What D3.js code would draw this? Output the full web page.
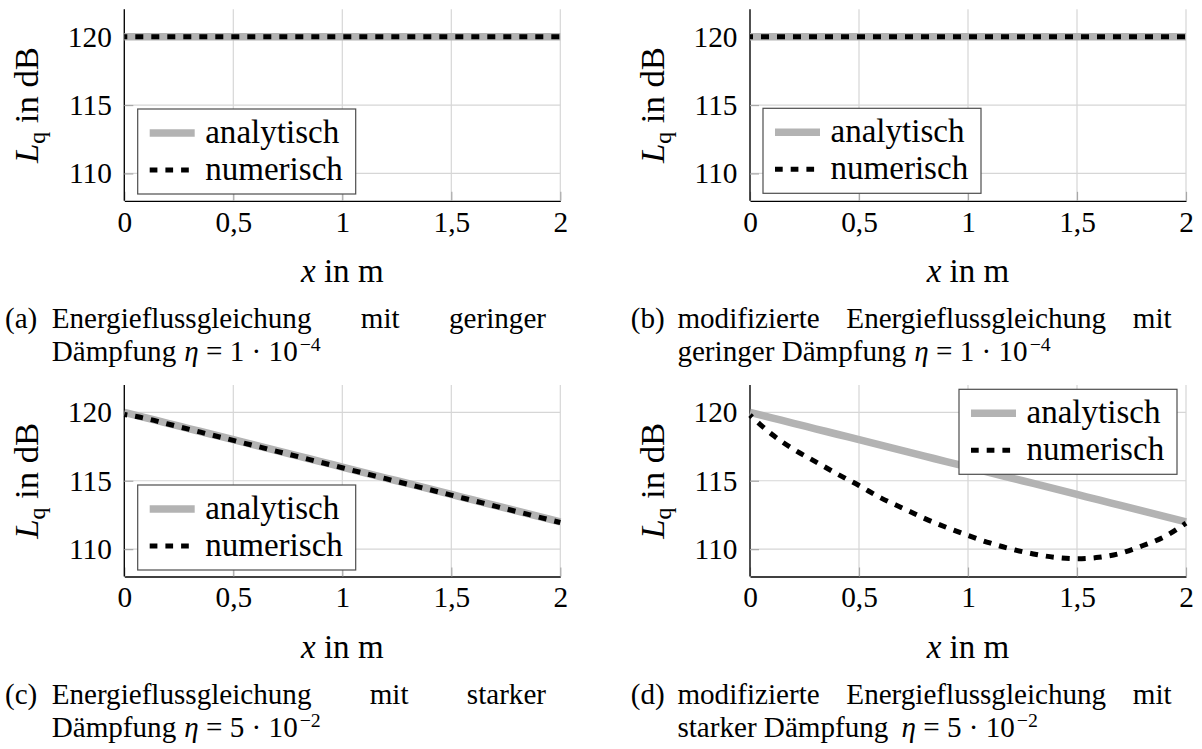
<!DOCTYPE html>
<html>
<head>
<meta charset="utf-8">
<script src="https://cdn.jsdelivr.net/npm/d3@7"></script>
<style>
  body { margin: 0; background: #fff; }
</style>
</head>
<body>
<div class="canvas"></div>
<script>
// x positions along the rod (m)
const xs = [0, 0.1, 0.2, 0.3, 0.4, 0.5, 0.6, 0.7, 0.8, 0.9, 1, 1.1, 1.2, 1.3, 1.4, 1.5, 1.6, 1.7, 1.8, 1.9, 2];

// Lq in dB
const analytischGering = [120, 120, 120, 120, 120, 120, 120, 120, 120, 120, 120, 120, 120, 120, 120, 120, 120, 120, 120, 120, 120];
const numerischEnergieGering = [120, 120, 120, 120, 120, 120, 120, 120, 120, 120, 120, 120, 120, 120, 120, 120, 120, 120, 120, 120, 120];
const numerischModGering = [120, 120, 120, 120, 120, 120, 120, 120, 120, 120, 120, 120, 120, 120, 120, 120, 120, 120, 120, 120, 120];
const analytischStark = [120, 119.6, 119.2, 118.8, 118.4, 118, 117.6, 117.2, 116.8, 116.4, 116, 115.6, 115.2, 114.8, 114.4, 114, 113.6, 113.2, 112.8, 112.4, 112];
const numerischEnergieStark = [119.85, 119.55, 119.15, 118.75, 118.35, 117.95, 117.55, 117.15, 116.75, 116.35, 115.95, 115.55, 115.15, 114.75, 114.35, 113.95, 113.55, 113.15, 112.75, 112.35, 111.95];
const numerischModStark = [119.8, 118.4, 117.3, 116.4, 115.5, 114.65, 113.75, 113.0, 112.25, 111.6, 111.0, 110.45, 110.0, 109.65, 109.4, 109.3, 109.4, 109.7, 110.25, 110.9, 111.9];

const xTicks = [0, 0.5, 1, 1.5, 2];
const yTicks = [110, 115, 120];
const legendLabels = ['analytisch', 'numerisch'];

const captions = [
  { tag: '(a)', line1: ['Energieflussgleichung', 'mit', 'geringer'], line2: 'Dämpfung', eta: '1', exp: '−4' },
  { tag: '(b)', line1: ['modifizierte', 'Energieflussgleichung', 'mit'], line2: 'geringer Dämpfung', eta: '1', exp: '−4' },
  { tag: '(c)', line1: ['Energieflussgleichung', 'mit', 'starker'], line2: 'Dämpfung', eta: '5', exp: '−2' },
  { tag: '(d)', line1: ['modifizierte', 'Energieflussgleichung', 'mit'], line2: 'starker Dämpfung', eta: '5', exp: '−2' }
];

const width = 1202;
const height = 749;
const plotW = 436;
const plotH = 191.5;
const gray = '#b3b3b3';

// pick an installed serif face, size it to the widths seen in the figure
const ctx = document.createElement('canvas').getContext('2d');
const hasFont = name => {
  const probe = 'mmmmmwwiil0123456789QqgB';
  return ['monospace', 'sans-serif'].some(fb => {
    ctx.font = `60px ${fb}`;
    const a = ctx.measureText(probe).width;
    ctx.font = `60px "${name}", ${fb}`;
    return ctx.measureText(probe).width !== a;
  });
};
const face = ['Liberation Serif', 'Tinos', 'DejaVu Serif', 'Noto Serif', 'Times New Roman'].find(hasFont) || 'serif';
const fontFamily = `"${face}", serif`;
const fit = (str, target) => {
  ctx.font = `100px ${fontFamily}`;
  return (100 * target) / ctx.measureText(str).width;
};
const tickFont = fit('120', 44);
const labelFont = fit('analytisch', 134);
const captionFont = fit('geringer', 97);

const svg = d3
  .select('.canvas')
  .append('svg')
  .attr('width', width)
  .attr('height', height)
  .style('font-family', fontFamily);

const x = d3.scaleLinear().domain([0, 2]).range([0, plotW]);
const y = d3.scaleLinear().domain([108, 122]).range([plotH, 0]);

const line = values =>
  d3
    .line()
    .x((d, i) => x(xs[i]))
    .y(d => y(d))
    .curve(d3.curveMonotoneX)(values);

const panels = [
  { left: 124.3, top: 9.3, analytic: analytischGering, numeric: numerischEnergieGering, legend: [13.4, 99.7] },
  { left: 750, top: 9.3, analytic: analytischGering, numeric: numerischModGering, legend: [13, 99] },
  { left: 124.3, top: 385, analytic: analytischStark, numeric: numerischEnergieStark, legend: [13.4, 100] },
  { left: 750, top: 385, analytic: analytischStark, numeric: numerischModStark, legend: [209, 4.3] }
];

panels.forEach((p, idx) => {
  const graph = svg
    .append('g')
    .attr('transform', `translate(${p.left}, ${p.top})`);

  // grid
  graph
    .append('g')
    .selectAll('line')
    .data(xTicks)
    .enter()
    .append('line')
    .attr('x1', d => x(d))
    .attr('x2', d => x(d))
    .attr('y1', 0)
    .attr('y2', plotH)
    .attr('stroke', '#d6d6d6')
    .attr('stroke-width', 1.2);
  graph
    .append('g')
    .selectAll('line')
    .data(yTicks)
    .enter()
    .append('line')
    .attr('x1', 0)
    .attr('x2', plotW)
    .attr('y1', d => y(d))
    .attr('y2', d => y(d))
    .attr('stroke', '#d6d6d6')
    .attr('stroke-width', 1.2);

  // axes
  const xAxis = d3
    .axisBottom(x)
    .tickValues(xTicks)
    .tickSize(-9)
    .tickSizeOuter(0)
    .tickPadding(10)
    .tickFormat(d => String(d).replace('.', ','));
  const yAxis = d3
    .axisLeft(y)
    .tickValues(yTicks)
    .tickSize(-9)
    .tickSizeOuter(0)
    .tickPadding(12.5);

  const xAxisGroup = graph
    .append('g')
    .attr('transform', `translate(0, ${plotH})`)
    .call(xAxis);
  const yAxisGroup = graph.append('g').call(yAxis);

  [xAxisGroup, yAxisGroup].forEach(g => {
    g.attr('font-family', null).attr('font-size', null);
    g.select('.domain').attr('stroke', '#000').attr('stroke-width', 1.3);
    g.selectAll('.tick line').attr('stroke', '#a8a8a8').attr('stroke-width', 1.2);
    g.selectAll('.tick text')
      .attr('fill', '#000')
      .style('font-size', `${tickFont}px`);
  });
  // y axis reaches the top of the plot
  yAxisGroup.select('.domain').attr('d', `M0,${plotH}V0`);

  // curves
  graph
    .append('path')
    .attr('d', line(p.analytic))
    .attr('fill', 'none')
    .attr('stroke', gray)
    .attr('stroke-width', 7.5);
  graph
    .append('path')
    .attr('d', line(p.numeric))
    .attr('fill', 'none')
    .attr('stroke', '#000')
    .attr('stroke-width', 5)
    .attr('stroke-dasharray', '8, 8')
    .attr('stroke-dashoffset', 5);

  // axis labels
  const xLabel = graph
    .append('text')
    .attr('x', plotW / 2)
    .attr('y', plotH + 81)
    .attr('text-anchor', 'middle')
    .style('font-size', `${labelFont}px`);
  xLabel.append('tspan').style('font-style', 'italic').text('x');
  xLabel.append('tspan').text(' in m');

  const yLabel = graph
    .append('text')
    .attr('transform', `translate(-86, ${plotH / 2}) rotate(-90)`)
    .attr('text-anchor', 'middle')
    .style('font-size', `${labelFont * 1.05}px`);
  yLabel.append('tspan').style('font-style', 'italic').text('L');
  yLabel.append('tspan').attr('dy', 7).style('font-size', `${labelFont * 0.72}px`).text('q');
  yLabel.append('tspan').attr('dy', -7).text(' in dB');

  // legend
  const legend = graph
    .append('g')
    .attr('transform', `translate(${p.legend[0]}, ${p.legend[1]})`);
  legend
    .append('rect')
    .attr('width', 218)
    .attr('height', 85)
    .attr('fill', '#fff')
    .attr('stroke', '#4d4d4d')
    .attr('stroke-width', 1.2);
  legend
    .selectAll('line')
    .data(legendLabels)
    .enter()
    .append('line')
    .attr('x1', 12)
    .attr('x2', 57)
    .attr('y1', (d, i) => 24 + i * 37)
    .attr('y2', (d, i) => 24 + i * 37)
    .attr('stroke', (d, i) => (i === 0 ? gray : '#000'))
    .attr('stroke-width', (d, i) => (i === 0 ? 7.5 : 5))
    .attr('stroke-dasharray', (d, i) => (i === 0 ? null : '7.7, 8'));
  legend
    .selectAll('text')
    .data(legendLabels)
    .enter()
    .append('text')
    .attr('x', 67.5)
    .attr('y', (d, i) => 24 + i * 37)
    .attr('dy', '0.3em')
    .style('font-size', `${labelFont}px`)
    .text(d => d);

  // caption under the panel
  const c = captions[idx];
  const capX = p.left - 119.3;
  const textX = capX + 46.7;
  const textEnd = capX + 541;
  const base1 = p.top + 319;
  const cap = svg.append('g').style('font-size', `${captionFont}px`);

  cap.append('text').attr('x', capX).attr('y', base1).text(c.tag);

  // justified first line
  const words = cap
    .selectAll('.word')
    .data(c.line1)
    .enter()
    .append('text')
    .attr('class', 'word')
    .attr('y', base1)
    .text(d => d);
  const lens = [];
  words.each(function () {
    lens.push(this.getComputedTextLength());
  });
  const gap = (textEnd - textX - d3.sum(lens)) / (lens.length - 1);
  let pos = textX;
  words.attr('x', (d, i) => {
    const at = pos;
    pos += lens[i] + gap;
    return at;
  });

  // second line: words, then the formula, then the exponent, each its own text
  const base2 = base1 + 33;
  const wordText = cap.append('text').attr('x', textX).attr('y', base2).text(c.line2);
  let cursor = textX + wordText.node().getComputedTextLength() + captionFont * (idx === 3 ? 0.45 : 0.28);
  const mathText = cap.append('text').attr('x', cursor).attr('y', base2);
  mathText.append('tspan').style('font-style', 'italic').text('η');
  mathText.append('tspan').text(` = ${c.eta} · 10`);
  cursor += mathText.node().getComputedTextLength() + 2;
  cap.append('text')
    .attr('x', cursor)
    .attr('y', base2 - captionFont * 0.36)
    .style('font-size', `${captionFont * 0.68}px`)
    .text(c.exp);
});
</script>
</body>
</html>
